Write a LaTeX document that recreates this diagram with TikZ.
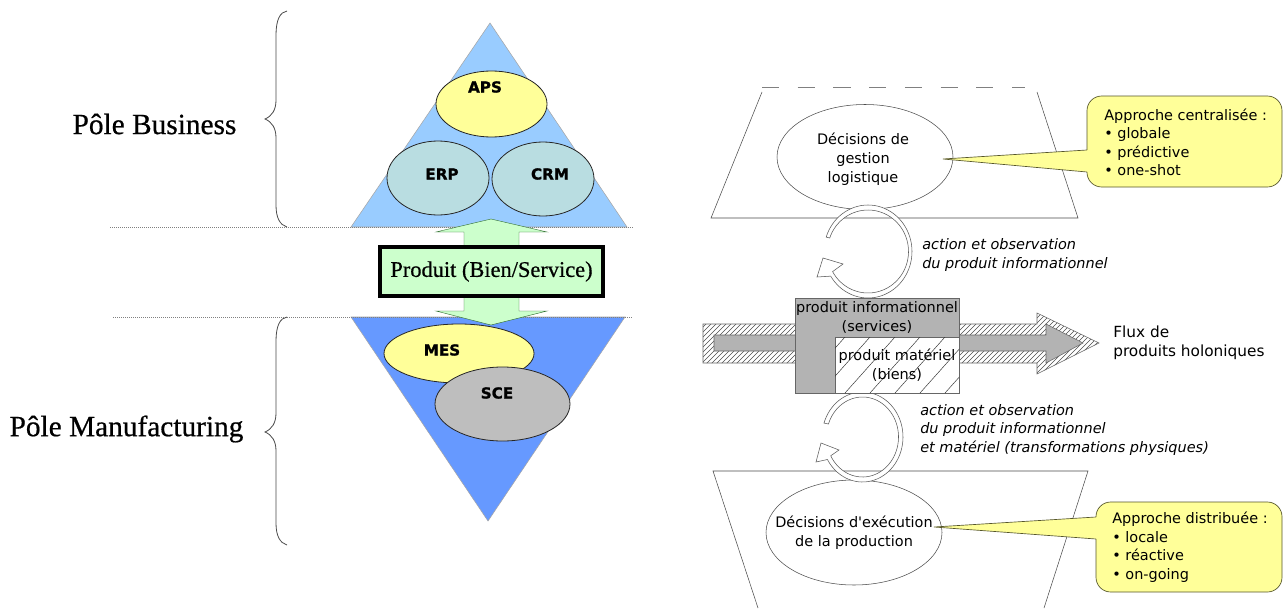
\documentclass[tikz,border=0pt]{standalone}
\usepackage{fontspec}
\setmainfont{DejaVu Sans}
\newfontfamily\plainfont{DejaVu Sans}
\newfontfamily\heavy[FakeBold=1.2]{DejaVu Sans Bold}
\newfontfamily\tms{Liberation Serif}
\newfontfamily\tmsb[FakeBold=0.6]{Liberation Serif}
\usetikzlibrary{shapes.geometric}
\definecolor{topblue}{HTML}{99CCFF}
\definecolor{lowblue}{HTML}{6699FF}
\definecolor{paleyellow}{HTML}{FFFF99}
\definecolor{paleteal}{HTML}{B9DDE1}
\definecolor{palegreen}{HTML}{CCFFCC}
\definecolor{midgray}{HTML}{BEBEBE}
\definecolor{boxgray}{HTML}{B3B3B3}
\definecolor{calloutline}{HTML}{55552A}
\tikzset{
  tri/.style={draw=gray!70,line width=.4pt},
  blob/.style={ellipse,draw=black!85,line width=.6pt,inner sep=0pt},
  blobname/.style={inner sep=0pt,font=\heavy\fontsize{11.4}{13}\selectfont},
  guide/.style={draw=gray,densely dotted,line width=.5pt},
  brace/.style={draw=black!70,line width=.6pt},
  pole/.style={inner sep=0pt,font=\tmsb\fontsize{22}{26}\selectfont},
  uparrow/.style={fill=palegreen,draw=gray!60!green!60!black,line width=.3pt},
  plane/.style={draw=black!70,line width=.4pt},
  decision/.style={ellipse,draw=black!70,line width=.4pt,inner sep=0pt},
  body/.style={inner sep=0pt,align=center,font=\fontsize{10.85}{14.2}\selectfont},
  italbody/.style={inner sep=0pt,align=left,anchor=west,font=\fontsize{10.85}{13.9}\selectfont\itshape},
  callout/.style={fill=paleyellow,draw=calloutline,line width=.5pt},
  ring/.style={fill=white,draw=black!65,line width=.4pt},
  note/.style={inner sep=0pt,align=left,anchor=west,font=\fontsize{10.85}{13.9}\selectfont},
}
\begin{document}
\begin{tikzpicture}[x=0.75pt,y=-0.75pt]
\useasboundingbox (0,0) rectangle (1284,610);
\fill[white] (0,0) rectangle (1284,610);
% left: pyramids
\filldraw[tri,fill=topblue] (490,23) -- (627,227) -- (351,227) -- cycle;
\filldraw[tri,fill=lowblue] (351,317) -- (625,317) -- (488,521) -- cycle;
\draw[guide] (110,227) -- (634,227);
\draw[guide] (113,317) -- (633,317);
\node[blob,fill=paleyellow,minimum width=111*.75pt,minimum height=66*.75pt] (aps) at (491.5,104) {};
\node[blob,fill=paleteal,minimum width=102*.75pt,minimum height=74*.75pt] (erp) at (438,178) {};
\node[blob,fill=paleteal,minimum width=102*.75pt,minimum height=74*.75pt] (crm) at (543,179) {};
\node[blobname] (apst) at (485,87) {APS};
\node[blobname] (erpt) at (442,174) {ERP};
\node[blobname] (crmt) at (550,174) {CRM};
\filldraw[uparrow] (491,219) -- (547,232) -- (519,232) -- (519,246) -- (464,246) -- (464,232) -- (436,232) -- cycle;
\filldraw[uparrow] (491,325) -- (547,311) -- (519,311) -- (519,297) -- (464,297) -- (464,311) -- (436,311) -- cycle;
\node[draw=black,line width=2.4pt,fill=palegreen,minimum width=223*.75pt,minimum height=49*.75pt,inner sep=0pt,font=\tmsb\fontsize{16.8}{19}\selectfont] (prod) at (491.5,271.5) {\raisebox{-1pt}{Produit (Bien/Service)}};
\node[blob,fill=paleyellow,minimum width=150*.75pt,minimum height=59*.75pt] (mes) at (459,353.5) {};
\node[blob,fill=midgray,minimum width=135*.75pt,minimum height=74*.75pt] (sce) at (502.5,404) {};
\node[blobname] (mest) at (442,350) {MES};
\node[blobname] (scet) at (497,393) {SCE};
% braces
\draw[brace] (287,11) .. controls (280,12) and (276,20) .. (276,35) -- (276,100) .. controls (276,110) and (272,116) .. (265,119) .. controls (272,122) and (276,128) .. (276,138) -- (276,205) .. controls (276,218) and (280,225) .. (287,227);
\draw[brace] (287,317) .. controls (280,318) and (276,326) .. (276,341) -- (276,413) .. controls (276,423) and (272,429) .. (265,432) .. controls (272,435) and (276,441) .. (276,451) -- (276,523) .. controls (276,536) and (280,543) .. (287,545);
\node[pole] (business) at (154.5,124) {Pôle Business};
\node[pole] (manuf) at (126.5,429) {Pôle Manufacturing};
% right: upper plane
\draw[plane] (762,92) -- (711,218) -- (1078,218) -- (1037,92);
\draw[draw=gray,line width=.5pt,dash pattern=on 12.8pt off 14pt] (762,87) -- (1025,87);
\node[decision,minimum width=176*.75pt,minimum height=105*.75pt] (gestion) at (865,157) {};
\node[body] (gestiont) at (863,159) {Décisions de\\gestion\\logistique};
% lower plane
\draw[plane] (758,608) -- (713,471) -- (1088,471) -- (1044,608);
\node[decision,minimum width=176*.75pt,minimum height=105*.75pt] (exec) at (854,532.5) {};
\node[body] (exect) at (854,532.5) {Décisions d{\plainfont'}exécution\\de la production};
% callouts
\filldraw[callout,rounded corners=11pt] (1087,96) rectangle (1282,187);
\fill[paleyellow] (943,159) -- (1089,172) -- (1089,150) -- cycle;
\draw[draw=calloutline,line width=.5pt] (1087,150) -- (943,159) -- (1087,172);
\node[note] (central) at (1104,142.5) {Approche centralisée :\\• globale\\• prédictive\\• one-shot};
\filldraw[callout,rounded corners=11pt] (1096,502) rectangle (1282,592);
\fill[paleyellow] (934,527) -- (1098,539) -- (1098,517) -- cycle;
\draw[draw=calloutline,line width=.5pt] (1096,517) -- (934,527) -- (1096,539);
\node[note] (distrib) at (1112,547) {Approche distribuée :\\• locale\\• réactive\\• on-going};
% rings
\filldraw[ring] plot[domain=198:508,samples=70] ({868+44*cos(\x)},{251.5+46.5*sin(\x)}) -- (817,277) -- (823,258) -- (843,264) -- plot[domain=511:199,samples=70] ({868+40.5*cos(\x)},{251.5+41.5*sin(\x)}) -- cycle;
\filldraw[ring] plot[domain=198:510,samples=70] ({862.5+40.5*cos(\x)},{437+45*sin(\x)}) -- (816,462) -- (821,443) -- (839,450) -- plot[domain=512:199,samples=70] ({862.5+36*cos(\x)},{437+40*sin(\x)}) -- cycle;
\node[italbody] (act1) at (922,255) {action et observation\\du produit informationnel};
\node[italbody] (act2) at (920,430) {action et observation\\du produit informationnel\\et matériel (transformations physiques)};
% flux arrow
\begin{scope}
\clip (703,324) -- (1037,324) -- (1037,313) -- (1099,343) -- (1037,374) -- (1037,363) -- (703,363) -- cycle;
\foreach \k in {-80,-75,...,440} {\draw[line width=.35pt,black!70] (690+\k,380) -- (690+\k+70,310);}
\end{scope}
\draw[line width=.4pt,black!60] (703,324) -- (1037,324) -- (1037,313) -- (1099,343) -- (1037,374) -- (1037,363) -- (703,363) -- cycle;
\filldraw[fill=boxgray,draw=black!60,line width=.4pt] (714,335) -- (1046,335) -- (1046,324) -- (1083,343) -- (1046,363) -- (1046,351) -- (714,351) -- cycle;
% product box
\filldraw[fill=boxgray,draw=black!60,line width=.6pt] (795,298) rectangle (959,393);
\filldraw[fill=white,draw=black!60,line width=.4pt] (835,337) rectangle (959,393);
\begin{scope}
\clip (835,337) rectangle (959,393);
\foreach \k in {0,25,...,200} {\draw[line width=.35pt,black!80] (795+\k,393) -- (795+\k+50,337);}
\end{scope}
\node[body] (info) at (877,317.5) {produit informationnel\\(services)};
\node[body] (mat) at (897,365) {produit matériel\\(biens)};
\node[note,font=\fontsize{11.5}{14.2}\selectfont] (flux) at (1113,342.5) {Flux de\\produits holoniques};
\end{tikzpicture}
\end{document}
